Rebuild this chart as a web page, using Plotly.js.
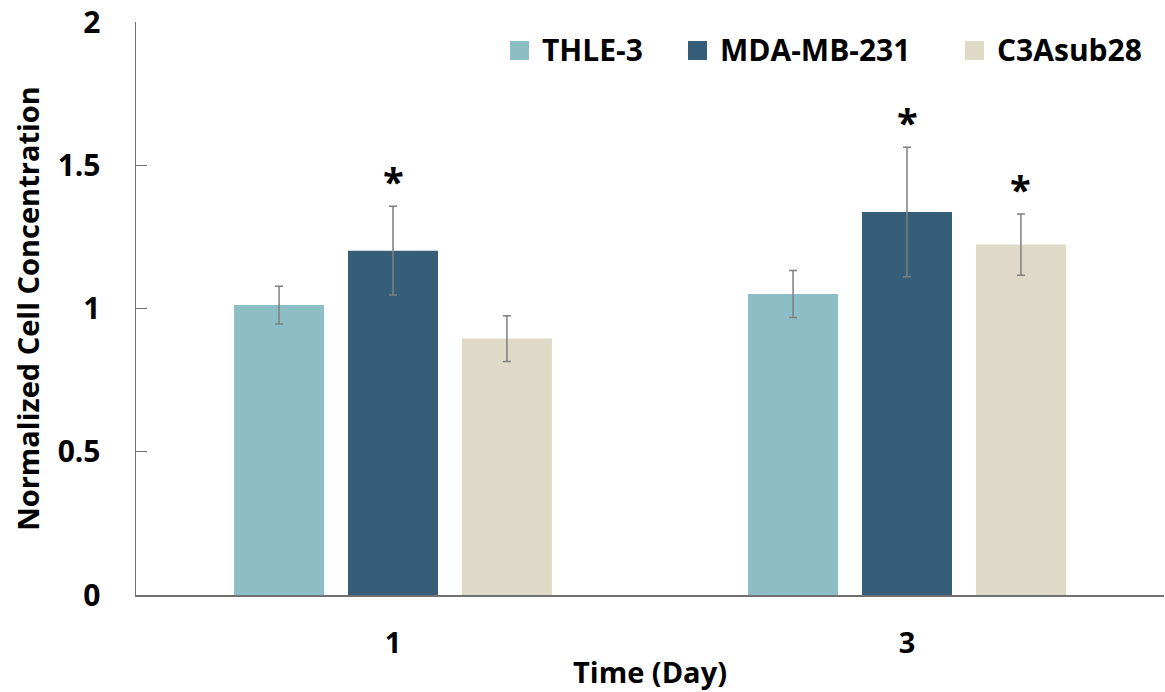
<!DOCTYPE html>
<html>
<head>
<meta charset="utf-8">
<script src="https://cdn.plot.ly/plotly-3.0.1.min.js"></script>
<style>html,body{margin:0;padding:0;background:#fff}#chart{width:1165px;height:692px}</style>
</head>
<body>
<div id="chart"></div>
<script>
const days = ["1", "3"];
const seriesNames = ["THLE-3", "MDA-MB-231", "C3Asub28"];
const thle3 = [1.012, 1.051];
const thle3Err = [0.066, 0.082];
const mda231 = [1.202, 1.337];
const mda231Err = [0.155, 0.226];
const c3asub28 = [0.895, 1.223];
const c3asub28Err = [0.080, 0.107];
const significant = [[false, false], [true, true], [false, true]];
const colors = ["#8dbec6", "#375e78", "#dfd9c8"];

const values = [thle3, mda231, c3asub28];
const errs = [thle3Err, mda231Err, c3asub28Err];
const bargap = 0.335;

// plot area in pixels (for legend placement)
const M = {l: 136, r: 1, t: 22, b: 97};
const W = 1165, H = 692;
const pw = W - M.l - M.r, ph = H - M.t - M.b;
const px = x => (x - M.l) / pw;
const py = y => (H - M.b - y) / ph;

const FONT = "Open Sans";

const traces = values.map((v, i) => ({
  type: "bar",
  name: seriesNames[i],
  x: days,
  y: v,
  marker: {color: colors[i]},
  error_y: {type: "data", array: errs[i], visible: true, color: "#7f7f7f", thickness: 1.5, width: 4},
  hoverinfo: "skip",
  showlegend: false
}));

const annotations = [];
values.forEach((v, i) => {
  v.forEach((val, j) => {
    if (significant[i][j]) {
      annotations.push({
        x: j + (i - 1) * (1 - bargap) / 3,
        y: val + errs[i][j],
        xref: "x", yref: "y",
        text: "*",
        showarrow: false,
        yanchor: "bottom",
        yshift: -3,
        font: {family: FONT, size: 38, color: "#000", weight: "bold"}
      });
    }
  });
});

// manual legend (larger swatches like the original)
const legendSwatchX = [510, 688, 965];
const shapes = [];
seriesNames.forEach((name, i) => {
  const x0 = legendSwatchX[i];
  shapes.push({
    type: "rect", xref: "paper", yref: "paper",
    x0: px(x0), x1: px(x0 + 19), y0: py(60), y1: py(41),
    fillcolor: colors[i], line: {width: 0}
  });
  annotations.push({
    xref: "paper", yref: "paper",
    x: px(x0 + 30), y: py(50),
    xanchor: "left", yanchor: "middle",
    text: name, showarrow: false,
    font: {family: FONT, size: 30, color: "#000", weight: "bold"}
  });
});

const layout = {
  width: W, height: H,
  margin: M,
  paper_bgcolor: "#fff", plot_bgcolor: "#fff",
  barmode: "group",
  bargap: bargap,
  bargroupgap: 0.21,
  showlegend: false,
  font: {family: FONT},
  xaxis: {
    type: "category",
    showline: true, linecolor: "#707070", linewidth: 1.5,
    ticks: "", showgrid: false, zeroline: false,
    tickfont: {family: FONT, size: 29, color: "#000", weight: "bold"},
    ticklabelstandoff: 22,
    title: {text: "Time (Day)", font: {family: FONT, size: 29, color: "#000", weight: "bold"}, standoff: 2}
  },
  yaxis: {
    range: [0, 2], dtick: 0.5, tick0: 0,
    showline: true, linecolor: "#707070", linewidth: 1.5,
    ticks: "inside", ticklen: 11, tickcolor: "#707070", tickwidth: 1,
    showgrid: false, zeroline: false,
    tickfont: {family: FONT, size: 30, color: "#000", weight: "bold"},
    ticklabelstandoff: 28,
    title: {text: "Normalized Cell Concentration", font: {family: FONT, size: 29, color: "#000", weight: "bold"}, standoff: 9}
  },
  shapes: shapes,
  annotations: annotations
};

Plotly.newPlot("chart", traces, layout, {displayModeBar: false, staticPlot: true});
</script>
</body>
</html>
